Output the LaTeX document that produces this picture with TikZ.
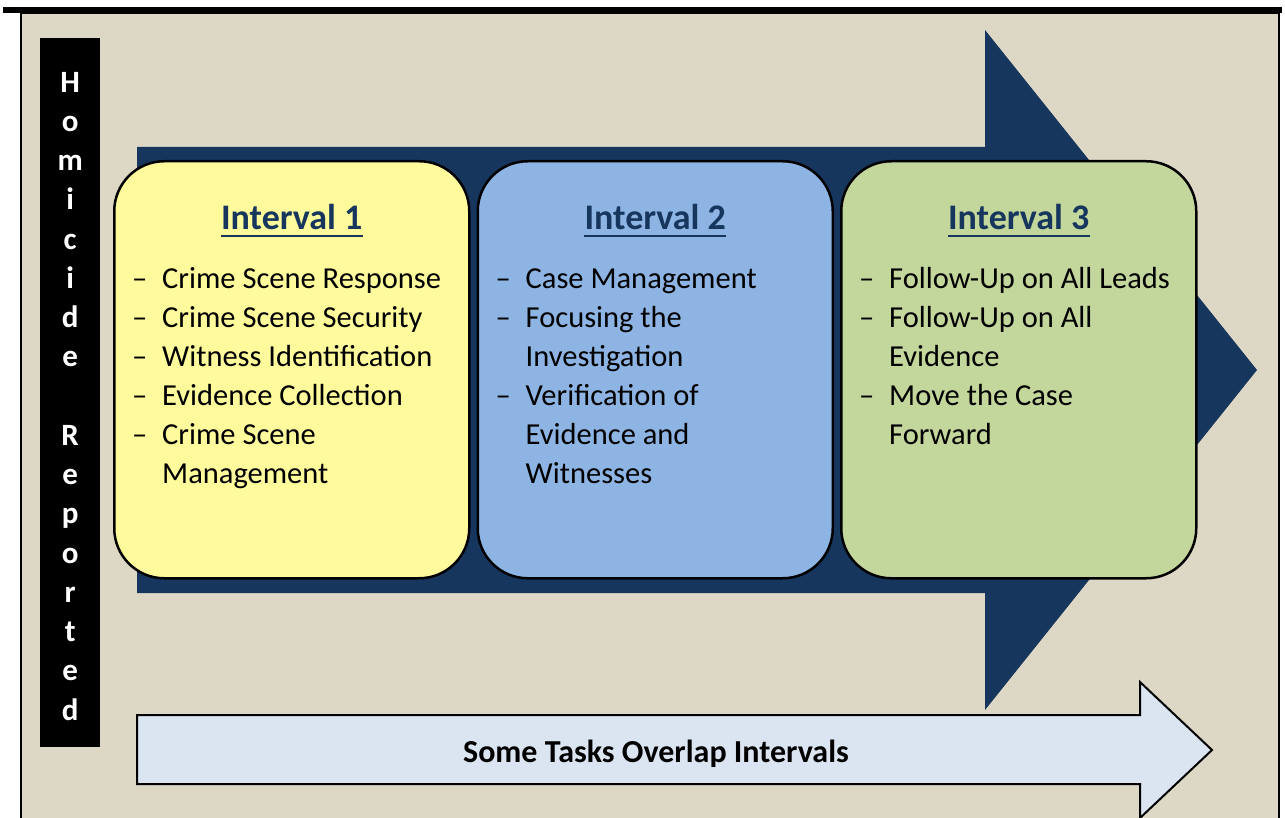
\documentclass[tikz,border=0pt]{standalone}
\usepackage{fontspec}
\setmainfont{Carlito}
\usepackage{tikz}
\usetikzlibrary{positioning}
\definecolor{panelbg}{HTML}{DDD8C5}
\definecolor{navy}{HTML}{17365D}
\definecolor{intonefill}{HTML}{FFFB9C}
\definecolor{inttwofill}{HTML}{8DB4E2}
\definecolor{intthreefill}{HTML}{C3D69B}
\definecolor{overlapfill}{HTML}{DBE5F1}
\tikzstyle{interval} = [ rectangle, rounded corners = 50pt, minimum width = 355pt, %
                         minimum height = 417pt, draw = black, line width = 2.5pt, %
                         inner sep = 0pt ]
\tikzstyle{heading} = [ font = \fontsize{36}{42}\selectfont\bfseries, text = navy, %
                        inner sep = 0pt ]
\tikzstyle{underl} = [ navy, line width = 2.5pt ]
\tikzstyle{tasks} = [ font = \fontsize{30.5}{39}\selectfont, align = left, %
                      inner sep = 0pt ]
\newcommand{\taskdash}{\rule{0pt}{25pt}\makebox[30pt][l]{--}}
\newcommand{\taskgap}{\hspace*{30pt}}

\begin{document}
\begin{tikzpicture}[x = 1pt, y = -1pt]
      \useasboundingbox (0,0) rectangle (1285,818);
      \clip (0,0) rectangle (1285,818);
      % Panel
      \draw [line width = 1.5pt, fill = panelbg] (21,13) rectangle (1279,840);
      \fill (3,7) rectangle (1282,13);
      % Big arrow
      \fill [navy] (137,147) -- (985,147) -- (985,30) -- (1257,370) -- %
        (985,710) -- (985,593) -- (137,593) -- cycle;
      % Homicide reported
      \node (strip) [fill = black, minimum width = 60pt, minimum height = 709pt, %
        anchor = north west, inner sep = 0pt] at (40,38) {};
      \node (letters) [anchor = base, text = white, align = center, inner sep = 0pt, %
        font = \fontsize{31}{39.25}\selectfont\bfseries] at ([yshift=-682pt]strip.north)
        {H\\o\\m\\i\\c\\i\\d\\e\\[39.25pt]R\\e\\p\\o\\r\\t\\e\\d};
      % Boxes
      \node (int1) [interval, fill = intonefill, anchor = north west] at (113,160) {};
      \node (int2) [interval, fill = inttwofill, right = 6pt of int1] {};
      \node (int3) [interval, fill = intthreefill, right = 6pt of int2] {};
      % Headings
      \node (head1) [heading, anchor = base] at ([yshift=-70pt]int1.north) {Interval 1};
      \node (head2) [heading, anchor = base] at ([yshift=-70pt]int2.north) {Interval 2};
      \node (head3) [heading, anchor = base] at ([yshift=-70pt]int3.north) {Interval 3};
      \draw [underl] ([yshift=-6pt]head1.base west) -- ([yshift=-6pt]head1.base east);
      \draw [underl] ([yshift=-6pt]head2.base west) -- ([yshift=-6pt]head2.base east);
      \draw [underl] ([yshift=-6pt]head3.base west) -- ([yshift=-6pt]head3.base east);
      % Tasks
      \node (list1) [tasks, anchor = north west] at ([xshift=19pt,yshift=-103pt]int1.north west)
        {\taskdash Crime Scene Response\\ \taskdash Crime Scene Security\\ %
         \taskdash Witness Identification\\ \taskdash Evidence Collection\\ %
         \taskdash Crime Scene\\ \taskgap Management};
      \node (list2) [tasks, anchor = north west] at ([xshift=19pt,yshift=-103pt]int2.north west)
        {\taskdash Case Management\\ \taskdash Focusing the\\ \taskgap Investigation\\ %
         \taskdash Verification of\\ \taskgap Evidence and\\ \taskgap Witnesses};
      \node (list3) [tasks, anchor = north west] at ([xshift=19pt,yshift=-103pt]int3.north west)
        {\taskdash Follow-Up on All Leads\\ \taskdash Follow-Up on All\\ \taskgap Evidence\\ %
         \taskdash Move the Case\\ \taskgap Forward};
      % Overlap arrow
      \draw [line width = 2pt, fill = overlapfill] (137,715) -- (1140,715) -- (1140,682) -- %
        (1212,750) -- (1140,818) -- (1140,784) -- (137,784) -- cycle;
      \node (overlap) [anchor = base, inner sep = 0pt, %
        font = \fontsize{32}{38}\selectfont\bfseries] at (656,762) {Some Tasks Overlap Intervals};
\end{tikzpicture}
\end{document}
